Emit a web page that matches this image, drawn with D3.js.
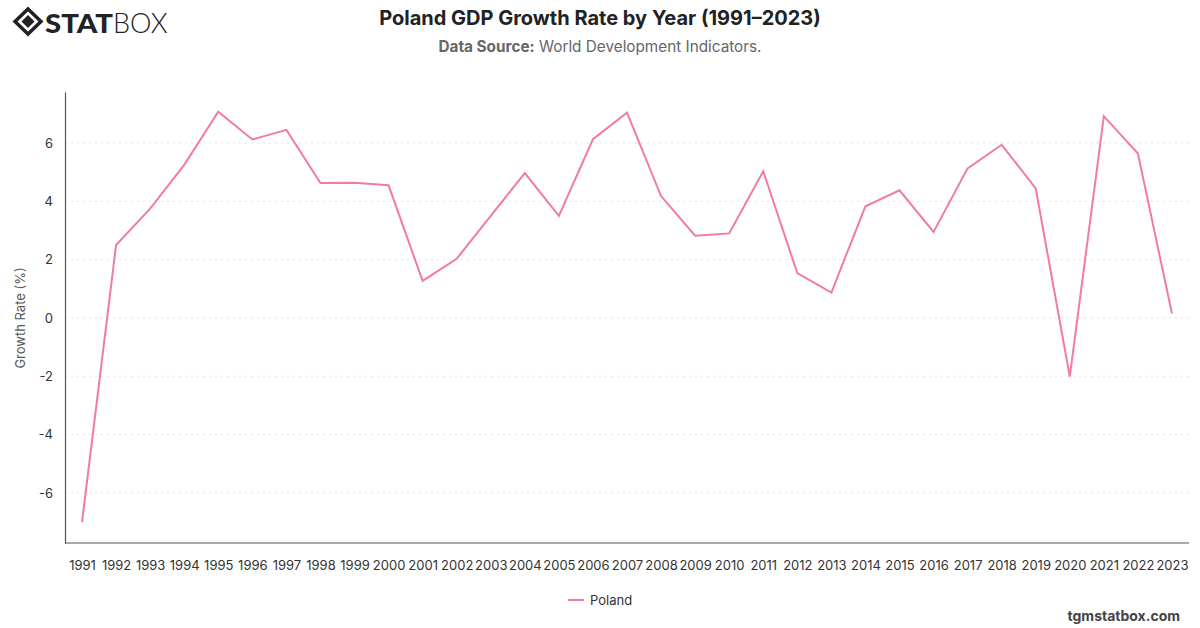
<!DOCTYPE html>
<html><head><meta charset="utf-8">
<script src="https://cdn.jsdelivr.net/npm/d3@7"></script>
<style>
html,body{margin:0;padding:0;background:#fff;}
svg{display:block;font-family:Inter,"Open Sans",sans-serif;}
</style></head>
<body>
<svg id="chart" width="1200" height="628"></svg>
<script>
const years = ["1991","1992","1993","1994","1995","1996","1997","1998","1999","2000","2001","2002","2003","2004","2005","2006","2007","2008","2009","2010","2011","2012","2013","2014","2015","2016","2017","2018","2019","2020","2021","2022","2023"];
const growth = [-7.0,2.5,3.75,5.25,7.07,6.12,6.45,4.63,4.64,4.55,1.27,2.03,3.5,4.97,3.5,6.13,7.04,4.18,2.82,2.9,5.03,1.54,0.87,3.83,4.38,2.95,5.13,5.94,4.44,-2.01,6.92,5.64,0.15];
const yTicks = [-6,-4,-2,0,2,4,6];
const seriesName = "Poland";
const title = "Poland GDP Growth Rate by Year (1991\u20132023)";
const sourceLabel = "Data Source:";
const sourceText = " World Development Indicators.";
const yLabel = "Growth Rate (%)";
const watermark = "tgmstatbox.com";

const svg = d3.select("#chart");
const m = {left:65, right:11, top:92, bottom:85};
const W = 1200, H = 628;
const x = d3.scalePoint().domain(years).range([m.left, W - m.right]).padding(0.5);
const y = d3.scaleLinear().domain([-7.72, 7.75]).range([H - m.bottom, m.top]);

// grid
svg.append("g").selectAll("line").data(yTicks).join("line")
  .attr("x1", m.left).attr("x2", W - m.right)
  .attr("y1", d => y(d)).attr("y2", d => y(d))
  .attr("stroke", "#e3e3e3").attr("stroke-dasharray", "2,4").attr("stroke-width", 1);

// y axis
const ya = svg.append("g").attr("transform", `translate(${m.left},0)`)
  .call(d3.axisLeft(y).tickValues(yTicks).tickSize(0).tickPadding(12).tickFormat(d => String(d)));
ya.select(".domain").attr("stroke", "#555").attr("stroke-width", 1.2);
ya.selectAll("text").attr("font-size", 13).attr("fill", "#333").attr("font-family", "Inter, sans-serif");

// x axis
const xa = svg.append("g").attr("transform", `translate(0,${H - m.bottom})`)
  .call(d3.axisBottom(x).tickSize(0).tickPadding(18));
xa.select(".domain").attr("stroke", "#555").attr("stroke-width", 1.2)
  .attr("d", `M${m.left},0H${W - m.right}`);
xa.selectAll("text").attr("font-size", 13).attr("fill", "#333").attr("font-family", "Inter, sans-serif");

// y label
svg.append("text").attr("transform", `translate(25,${y(0)}) rotate(-90)`)
  .attr("text-anchor", "middle").attr("font-size", 13).attr("fill", "#555").text(yLabel);

// line
const line = d3.line().x((d,i) => x(years[i])).y(d => y(d));
svg.append("path").datum(growth).attr("d", line)
  .attr("fill", "none").attr("stroke", "#f07aa8").attr("stroke-width", 2).attr("stroke-linejoin", "miter");

// title
svg.append("text").attr("x", 600).attr("y", 25).attr("text-anchor", "middle")
  .attr("font-size", 20).attr("font-weight", 700).attr("fill", "#222").text(title);
const sub = svg.append("text").attr("x", 600).attr("y", 52).attr("text-anchor", "middle")
  .attr("font-size", 15.3).attr("fill", "#666");
sub.append("tspan").attr("font-weight", 700).text(sourceLabel);
sub.append("tspan").text(sourceText);

// legend
svg.append("line").attr("x1", 568).attr("x2", 584).attr("y1", 600).attr("y2", 600)
  .attr("stroke", "#f07aa8").attr("stroke-width", 2);
svg.append("text").attr("x", 590).attr("y", 604.5).attr("font-size", 13).attr("fill", "#333").text(seriesName);

// watermark
svg.append("text").attr("x", 1180).attr("y", 621).attr("text-anchor", "end")
  .attr("font-size", 14).attr("font-weight", 700).attr("fill", "#444").text(watermark);

// logo
const lg = svg.append("g").attr("transform", "translate(15,8)");
lg.append("path").attr("d", "M13,1 L26,13.5 L13,26 L0,13.5 Z").attr("fill", "none").attr("stroke", "#222").attr("stroke-width", 3.5);
lg.append("path").attr("d", "M13,7 L19.5,13.5 L13,20 L6.5,13.5 Z").attr("fill", "#222");
lg.append("text").attr("x", 30).attr("y", 25).attr("font-size", 27).attr("font-weight", 900)
  .attr("fill", "#222").attr("font-family", "Lato, Inter, sans-serif").attr("textLength", 68).attr("lengthAdjust", "spacingAndGlyphs").text("STAT");
lg.append("text").attr("x", 98).attr("y", 25).attr("font-size", 27).attr("font-weight", 300)
  .attr("fill", "#222").attr("font-family", "Lato, Inter, sans-serif").text("BOX");
</script>
</body></html>
